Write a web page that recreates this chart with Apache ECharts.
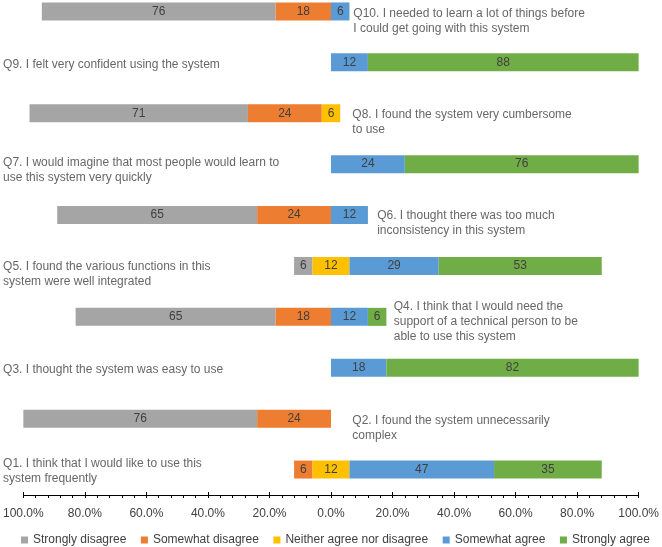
<!DOCTYPE html>
<html>
<head>
<meta charset="utf-8">
<script src="https://cdn.jsdelivr.net/npm/echarts@6/dist/echarts.min.js"></script>
<style>
  html, body { margin: 0; padding: 0; background: #ffffff; overflow: hidden; }
  #chart { width: 662px; height: 561px; margin-top: -14px; }
</style>
</head>
<body>
<div id="chart"></div>
<script>
// ---- Data (Q1 at bottom ... Q10 at top) ----
var categories = ['Q1', 'Q2', 'Q3', 'Q4', 'Q5', 'Q6', 'Q7', 'Q8', 'Q9', 'Q10'];
var questions = [
  'Q1. I think that I would like to use this\nsystem frequently',
  'Q2. I found the system unnecessarily\ncomplex',
  'Q3. I thought the system was easy to use',
  'Q4. I think that I would need the\nsupport of a technical person to be\nable to use this system',
  'Q5. I found the various functions in this\nsystem were well integrated',
  'Q6. I thought there was too much\ninconsistency in this system',
  'Q7. I would imagine that most people would learn to\nuse this system very quickly',
  'Q8. I found the system very cumbersome\nto use',
  'Q9. I felt very confident using the system',
  'Q10. I needed to learn a lot of things before\nI could get going with this system'
];
var stronglyDisagree = [0, 76, 0, 65, 6, 65, 0, 71, 0, 76];
var somewhatDisagree = [6, 24, 0, 18, 0, 24, 0, 24, 0, 18];
var neutral          = [12, 0, 0, 0, 12, 0, 0, 6, 0, 0];
var somewhatAgree    = [47, 0, 18, 12, 29, 12, 24, 0, 12, 6];
var stronglyAgree    = [35, 0, 82, 6, 53, 0, 76, 0, 88, 0];
var seriesNames = ['Strongly disagree', 'Somewhat disagree', 'Neither agree nor disagree', 'Somewhat agree', 'Strongly agree'];
var tickValues = [-100, -80, -60, -40, -20, 0, 20, 40, 60, 80, 100];

// ---- Layout of the question texts (x in axis %, y offset in px) ----
var labelX  = [-106.6, 6.94, -106.6, 20.4, -106.6, 15.0, -106.6, 6.94, -106.6, 7.26];
var labelDy = [-13.4, -5.8, -5.7, -18, -7.1, -6.8, -9.4, -6.5, -4.7, -5.5];

var colors = ['#A5A5A5', '#ED7D31', '#FFC000', '#5B9BD5', '#70AD47'];
var textColor = '#404040';
var fontFamily = "'Liberation Sans', Arial, Helvetica, sans-serif";

// offset so that neutral is centred on zero
var offset = categories.map(function (c, i) {
  return -(stronglyDisagree[i] + somewhatDisagree[i] + neutral[i] / 2);
});

var valueSets = [stronglyDisagree, somewhatDisagree, neutral, somewhatAgree, stronglyAgree];

var series = [{
  name: 'offset',
  type: 'bar',
  stack: 'total',
  stackStrategy: 'all',
  barWidth: 18,
  silent: true,
  itemStyle: { color: 'rgba(0,0,0,0)' },
  label: { show: false },
  data: offset
}];

valueSets.forEach(function (vals, k) {
  series.push({
    name: seriesNames[k],
    type: 'bar',
    stack: 'total',
    stackStrategy: 'all',
    barWidth: 18,
    itemStyle: { color: colors[k] },
    label: {
      show: true,
      position: 'inside',
      color: textColor,
      fontSize: 12,
      fontFamily: fontFamily,
      formatter: function (p) { return p.value ? String(p.value) : ''; }
    },
    data: vals
  });
});

series.push({
  name: 'questions',
  type: 'scatter',
  symbolSize: 0,
  clip: false,
  silent: true,
  itemStyle: { color: 'rgba(0,0,0,0)' },
  label: {
    show: true,
    position: 'right',
    distance: 0,
    align: 'left',
    verticalAlign: 'top',
    color: textColor,
    fontSize: 12,
    lineHeight: 15,
    fontFamily: fontFamily,
    formatter: function (p) { return questions[p.dataIndex]; }
  },
  data: categories.map(function (c, i) {
    return { value: [labelX[i], c], label: { offset: [0, labelDy[i]] } };
  })
});

var chart = echarts.init(document.getElementById('chart'), null, { renderer: 'canvas' });
chart.setOption({
  animation: false,
  backgroundColor: '#ffffff',
  textStyle: { fontFamily: fontFamily },
  grid: { left: 21, right: 22.5, top: 0, bottom: 52, containLabel: false },
  legend: {
    data: seriesNames,
    left: 21,
    top: 548,
    width: 641,
    padding: 0,
    icon: 'rect',
    itemWidth: 7,
    itemHeight: 7,
    itemGap: 14.5,
    textStyle: { color: textColor, fontSize: 12, fontFamily: fontFamily }
  },
  xAxis: [{
    type: 'value',
    min: tickValues[0],
    max: tickValues[tickValues.length - 1],
    interval: 20,
    splitLine: { show: false },
    axisLine: { show: true, lineStyle: { color: '#000000', width: 1 } },
    axisTick: { show: true, length: 3, lineStyle: { color: '#000000' } },
    minorTick: { show: true, splitNumber: 5, length: 3, lineStyle: { color: '#000000' } },
    axisLabel: {
      margin: 13,
      color: textColor,
      fontSize: 12,
      fontFamily: fontFamily,
      formatter: function (v) { return Math.abs(v).toFixed(1) + '%'; }
    }
  }, {
    type: 'value',
    position: 'bottom',
    min: tickValues[0],
    max: tickValues[tickValues.length - 1],
    interval: 20,
    splitLine: { show: false },
    axisLine: { show: false },
    axisTick: { show: true, inside: true, length: 3, lineStyle: { color: '#000000' } },
    axisLabel: { show: false }
  }],
  yAxis: {
    type: 'category',
    data: categories,
    show: false
  },
  series: series
});
</script>
</body>
</html>
